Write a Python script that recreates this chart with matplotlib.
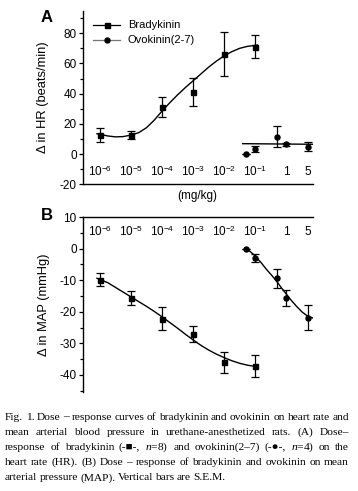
import matplotlib
matplotlib.use("Agg")
import matplotlib.pyplot as plt
import numpy as np
from matplotlib.ticker import MultipleLocator

plt.rcParams['font.family'] = ['Liberation Sans', 'DejaVu Sans']
plt.rcParams['mathtext.fontset'] = 'custom'
plt.rcParams['mathtext.rm'] = 'Liberation Sans'
plt.rcParams['mathtext.it'] = 'Liberation Serif:italic'
plt.rcParams['axes.unicode_minus'] = False

# dose axis labels
x_ticks = [1e-6, 1e-5, 1e-4, 1e-3, 1e-2, 1e-1, 1, 5]
x_ticklabels = ['10$^{-6}$', '10$^{-5}$', '10$^{-4}$', '10$^{-3}$', '10$^{-2}$',
                '10$^{-1}$', '1', '5']

# (A) heart rate
brady_dose = [1e-6, 1e-5, 1e-4, 1e-3, 1e-2, 1e-1]
brady_hr = [12.6, 12.6, 31.3, 41.3, 66.2, 71.1]
brady_hr_err = [4.6, 2.8, 6.8, 9.3, 14.4, 7.7]
ovo_dose = [0.05, 0.1, 0.5, 1, 5]
ovo_hr = [0.0, 3.5, 11.5, 6.5, 4.9]
ovo_hr_err = [0, 2.0, 6.8, 1.0, 2.8]

# fitted curves (log10 dose, response)
brady_hr_fit_logx = [-6.1, -5.75, -5.5, -5.25, -5.0, -4.75, -4.5, -4.25, -4.0, -3.75, -3.5,
                     -3.25, -3.0, -2.75, -2.5, -2.25, -2.0, -1.75, -1.5, -1.25, -1.0, -0.92]
brady_hr_fit_y = [13.5, 12.0, 11.4, 11.6, 12.6, 14.2, 17.5, 22.5, 28.5, 34.0, 39.2,
                  44.0, 48.5, 53.0, 57.5, 61.5, 65.0, 67.8, 70.0, 71.3, 72.0, 72.2]
ovo_hr_fit_logx = [-1.4, 0.87]
ovo_hr_fit_y = [6.9, 6.5]

# (B) mean arterial pressure
brady_map = [-9.8, -15.6, -22.2, -27.1, -36.0, -37.1]
brady_map_err = [2.2, 2.3, 3.6, 2.5, 3.4, 3.4]
ovo_map = [0.0, -3.0, -9.4, -15.7, -21.9]
ovo_map_err = [0, 1.4, 3.0, 2.5, 4.0]

brady_map_fit_logx = [-6.1, -5.75, -5.5, -5.25, -5.0, -4.75, -4.5, -4.25, -4.0, -3.75, -3.5,
                      -3.25, -3.0, -2.75, -2.5, -2.25, -2.0, -1.75, -1.5, -1.25, -1.0, -0.92]
brady_map_fit_y = [-9.4, -10.8, -12.3, -13.8, -15.3, -16.8, -18.3, -19.9, -21.6, -23.4, -25.2,
                   -27.1, -28.9, -30.6, -32.1, -33.4, -34.5, -35.5, -36.3, -36.9, -37.3, -37.4]
ovo_map_fit_logx = [-1.3, -1.15, -1.0, -0.8, -0.63, -0.45, -0.3, -0.15, 0.0, 0.17, 0.34,
                    0.52, 0.7, 0.87]
ovo_map_fit_y = [0.0, -1.0, -2.3, -4.5, -6.6, -8.6, -10.4, -12.4, -14.3, -16.4, -18.3,
                 -20.1, -21.4, -22.0]

caption_lines = [
    "Fig. 1. Dose \u2013 response curves of bradykinin and ovokinin on heart rate and",
    "mean arterial blood pressure in urethane-anesthetized rats. (A) Dose\u2013",
    "response of bradykinin (-\u25a0-, $n$=8) and ovokinin(2\u20137) (-\u25cf-, $n$=4) on the",
    "heart rate (HR). (B) Dose \u2013 response of bradykinin and ovokinin on mean",
    "arterial pressure (MAP). Vertical bars are S.E.M.",
]

W, H = 358, 491
fig = plt.figure(figsize=(W / 100, H / 100), dpi=100)

xlim = (10 ** -6.55, 10 ** 0.87)
fs = 8.5


def style_axis(ax):
    ax.set_xscale('log')
    ax.set_xlim(*xlim)
    ax.spines['right'].set_visible(False)
    ax.tick_params(axis='x', which='both', bottom=False, top=False,
                   labelbottom=False, labeltop=False)
    ax.tick_params(axis='y', which='major', length=3, width=0.9, labelsize=fs, pad=1.5)
    ax.tick_params(axis='y', which='minor', length=2, width=0.9)
    for s in ax.spines.values():
        s.set_linewidth(1.0)


err_kw = dict(capsize=2.6, elinewidth=0.9, capthick=0.9, color='black', linestyle='none')

# panel A
axA = fig.add_axes([83 / W, 1 - 184.3 / H, 230 / W, 173.7 / H])
style_axis(axA)
axA.spines['top'].set_visible(False)
axA.set_ylim(-20, 95)
axA.set_yticks([-20, 0, 20, 40, 60, 80])
axA.yaxis.set_minor_locator(MultipleLocator(10))
axA.plot(10 ** np.array(brady_hr_fit_logx), brady_hr_fit_y, color='black', lw=1.0)
axA.plot(10 ** np.array(ovo_hr_fit_logx), ovo_hr_fit_y, color='black', lw=1.0)
axA.errorbar(brady_dose, brady_hr, yerr=brady_hr_err, marker='s', ms=3.6, **err_kw)
axA.errorbar(ovo_dose, ovo_hr, yerr=ovo_hr_err, marker='o', ms=3.6, **err_kw)
for x, lab in zip(x_ticks, x_ticklabels):
    axA.text(x, -12, lab, ha='center', va='center', fontsize=fs)
axA.set_ylabel('\u0394 in HR (beats/min)', fontsize=9.3)
axA.yaxis.set_label_coords(-(83 - 49) / 230, 0.5)
fig.text(197 / W, 1 - 196 / H, '(mg/kg)', ha='center', va='center', fontsize=fs)
fig.text(47 / W, 1 - 17 / H, 'A', ha='center', va='center', fontsize=12, fontweight='bold')

# legend drawn by hand (pixel positions inside panel A)
leg_x0, leg_x1, leg_txt = (93 - 83) / 230, (120 - 83) / 230, (128 - 83) / 230
for i, (lab, mk, col) in enumerate([('Bradykinin', 's', 'black'),
                                     ('Ovokinin(2-7)', 'o', '#777777')]):
    yy = 1 - (25 + 15 * i - 10.6) / 173.7
    axA.plot([leg_x0, leg_x1], [yy, yy], transform=axA.transAxes, color=col, lw=0.9)
    axA.plot([(leg_x0 + leg_x1) / 2], [yy], transform=axA.transAxes,
             marker=mk, ms=3.6, color='black')
    axA.text(leg_txt, yy, lab, transform=axA.transAxes, ha='left',
             va='center', fontsize=fs - 0.5)

# panel B
axB = fig.add_axes([83 / W, 1 - 392 / H, 230 / W, 175 / H])
style_axis(axB)
axB.spines['bottom'].set_visible(False)
axB.set_ylim(-45.4, 10)
axB.set_yticks([10, 0, -10, -20, -30, -40])
axB.yaxis.set_minor_locator(MultipleLocator(5))
axB.plot(10 ** np.array(brady_map_fit_logx), brady_map_fit_y, color='black', lw=1.0)
axB.plot(10 ** np.array(ovo_map_fit_logx), ovo_map_fit_y, color='black', lw=1.0)
axB.errorbar(brady_dose, brady_map, yerr=brady_map_err, marker='s', ms=3.6, **err_kw)
axB.errorbar(ovo_dose, ovo_map, yerr=ovo_map_err, marker='o', ms=3.6, **err_kw)
for x, lab in zip(x_ticks, x_ticklabels):
    axB.text(x, 5.4, lab, ha='center', va='center', fontsize=fs)
axB.set_ylabel('\u0394 in MAP (mmHg)', fontsize=9.3)
axB.yaxis.set_label_coords(-(83 - 50) / 230, 0.5)
fig.text(47 / W, 1 - 215 / H, 'B', ha='center', va='center', fontsize=12, fontweight='bold')

# caption, justified word by word
fig.canvas.draw()
r = fig.canvas.get_renderer()
cap_left, cap_right = 5, 349
cap_y0, cap_dy = 417, 15.2
cap_font = dict(fontsize=8.25, family=['Liberation Serif', 'DejaVu Sans'], va='center', ha='left')
for li, line in enumerate(caption_lines):
    words = line.split(' ')
    y = 1 - (cap_y0 + li * cap_dy) / H
    texts = [fig.text(0, y, w_, **cap_font) for w_ in words]
    widths = [t.get_window_extent(r).width for t in texts]
    if li < len(caption_lines) - 1:
        gap = (cap_right - cap_left - sum(widths)) / (len(words) - 1)
    else:
        gap = 2.3
    x = cap_left
    for t, w_ in zip(texts, widths):
        t.set_x(x / W)
        x += w_ + gap

fig.savefig('out.png', dpi=100)
